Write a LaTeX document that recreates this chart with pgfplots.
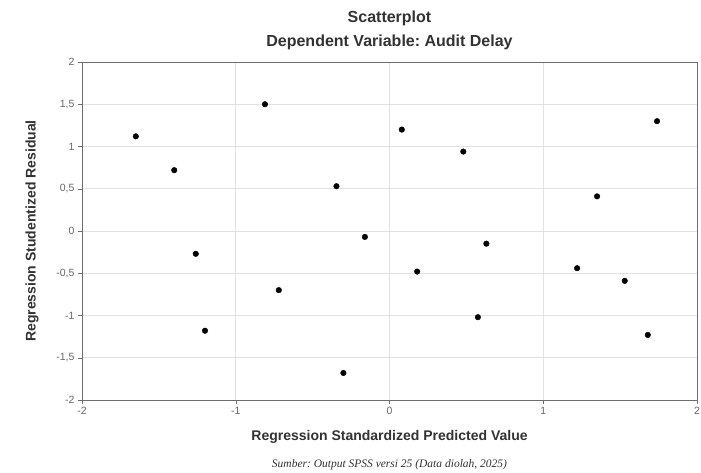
\documentclass[border=0pt]{standalone}
\usepackage{pgfplots}
\pgfplotsset{compat=1.18}
\usepackage{fontspec}
\setmainfont{Liberation Sans}
\newfontfamily\capfont{Liberation Serif}
\frenchspacing
\definecolor{gridgray}{RGB}{225,225,225}
\definecolor{framegray}{RGB}{110,110,110}
\definecolor{labgray}{RGB}{50,50,50}
\begin{document}
\begin{tikzpicture}
\begin{axis}[
    width=615pt, height=338pt, scale only axis,
    xmin=-2, xmax=2, ymin=-2, ymax=2,
    xtick={-2,-1,0,1,2},
    xticklabels={-2,-1,0,1,2},
    ytick={-2,-1.5,-1,-0.5,0,0.5,1,1.5,2},
    yticklabels={-2,{-1,5},-1,{-0,5},0,{0,5},1,{1,5},2},
    tick label style={font=\fontsize{10.5}{12}\selectfont, text=black!60},
    tick align=outside, tick pos=left,
    major tick length=4pt,
    tick style={framegray, thin},
    axis line style={framegray},
    grid=major, grid style={gridgray, line width=0.6pt},
]
\addplot[only marks, mark=*, mark size=2.8pt, black] coordinates {
    (-1.65, 1.12) (-1.40, 0.72) (-0.81, 1.50) (-0.345, 0.53) (-0.16, -0.07)
    (0.08, 1.20) (0.48, 0.94) (1.35, 0.41) (1.74, 1.30)
    (-1.26, -0.27) (-0.72, -0.70) (-1.20, -1.18) (-0.30, -1.68)
    (0.18, -0.48) (0.63, -0.15) (0.575, -1.02) (1.22, -0.44) (1.53, -0.59) (1.68, -1.23)
};
\end{axis}
\begin{scope}[every node/.style={text=labgray}]
\node[font=\bfseries\fontsize{16}{18}\selectfont] at ([yshift=44pt]current axis.north) {Scatterplot};
\node[font=\bfseries\fontsize{16}{18}\selectfont] at ([yshift=20pt]current axis.north) {Dependent Variable: Audit Delay};
\node[font=\bfseries\fontsize{14}{16}\selectfont] at ([yshift=-37pt]current axis.south) {Regression Standardized Predicted Value};
\node[font=\bfseries\fontsize{14}{16}\selectfont, rotate=90] at ([xshift=-50pt]current axis.west) {Regression Studentized Residual};
\node[font=\capfont\itshape\fontsize{11.5}{13}\selectfont] at ([yshift=-65pt]current axis.south)
    {Sumber: Output SPSS versi 25 (Data diolah, 2025)};
\end{scope}
\pgfresetboundingbox
\path ([xshift=-82pt, yshift=-72pt]current axis.south west) rectangle ++(701pt,472pt);
\end{tikzpicture}
\end{document}
